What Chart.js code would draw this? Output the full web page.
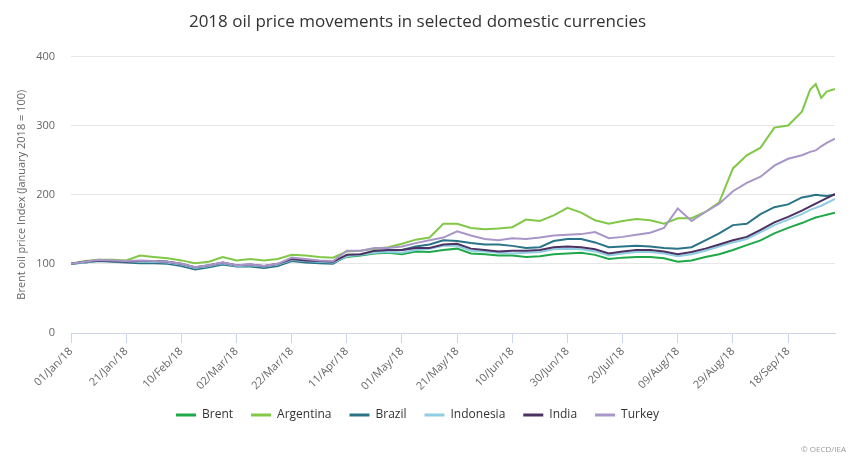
<!DOCTYPE html>
<html>
<head>
<meta charset="utf-8">
<script src="https://cdn.jsdelivr.net/npm/chart.js@4.4.1/dist/chart.umd.min.js"></script>
<style>
    html, body { margin: 0; padding: 0; background: #fff; }
    #wrap { width: 858px; height: 464px; }
</style>
</head>
<body>
<div id="wrap"><canvas id="oil-chart" width="858" height="464"></canvas></div>
<script>
// day offsets from 01 Jan 2018
const days = [0, 5, 10, 15, 20, 25, 30, 35, 40, 45, 50, 55, 60, 65, 70, 75, 80, 85, 90, 95,
    100, 105, 110, 115, 120, 125, 130, 135, 140, 145, 150, 155, 160, 165, 170, 175, 180, 185, 190, 195,
    200, 205, 210, 215, 220, 225, 230, 235, 240, 245, 250, 255, 260, 265, 268, 270, 272, 274, 277];

const tickLabels = ['01/Jan/18', '21/Jan/18', '10/Feb/18', '02/Mar/18', '22/Mar/18', '11/Apr/18', '01/May/18',
    '21/May/18', '10/Jun/18', '30/Jun/18', '20/Jul/18', '09/Aug/18', '29/Aug/18', '18/Sep/18'];

const brent = [100, 102, 105, 104, 103, 104, 104, 103, 99, 94, 97, 101, 97, 98, 96, 99, 106, 105, 103, 102,
    110, 112, 115, 116, 114, 118, 117, 120, 122, 115, 114, 112, 112, 110, 111, 114, 115, 116, 113, 107,
    109, 110, 110, 108, 103, 105, 110, 114, 120, 127, 134, 144, 152, 159, 164, 167, 169, 171, 174];

const argentina = [100, 104, 106, 106, 105, 112, 110, 108, 105, 101, 103, 110, 105, 107, 105, 107, 113, 112, 110, 109,
    118, 119, 122, 124, 129, 135, 138, 158, 158, 152, 150, 151, 153, 164, 162, 170, 181, 174, 163, 158,
    162, 165, 163, 158, 166, 166, 175, 189, 238, 257, 268, 297, 300, 320, 352, 360, 340, 349, 353];

const brazil = [100, 102, 104, 103, 102, 101, 101, 100, 97, 92, 95, 99, 96, 96, 94, 97, 104, 102, 101, 100,
    112, 113, 118, 119, 120, 125, 128, 134, 133, 130, 128, 128, 126, 123, 124, 133, 136, 136, 131, 124,
    125, 126, 125, 123, 122, 124, 134, 144, 156, 158, 172, 182, 186, 196, 198, 200, 199, 198, 200];

const indonesia = [100, 102, 105, 104, 103, 103, 103, 102, 99, 94, 97, 101, 97, 98, 96, 99, 106, 104, 103, 102,
    111, 113, 116, 117, 116, 120, 122, 126, 126, 119, 118, 116, 115, 116, 117, 121, 122, 121, 118, 112,
    115, 117, 117, 115, 111, 114, 119, 125, 131, 136, 146, 156, 164, 172, 178, 181, 184, 188, 194];

const india = [100, 103, 105, 104, 103, 104, 104, 103, 100, 95, 98, 102, 98, 99, 97, 100, 107, 105, 104, 103,
    113, 114, 119, 120, 120, 123, 123, 128, 129, 122, 120, 118, 119, 119, 120, 124, 125, 124, 121, 115,
    118, 120, 120, 118, 114, 117, 122, 128, 134, 139, 149, 160, 168, 177, 183, 187, 191, 195, 201];

const turkey = [100, 103, 106, 105, 104, 105, 104, 103, 100, 95, 98, 102, 98, 99, 97, 100, 109, 107, 105, 104,
    119, 119, 123, 123, 125, 130, 134, 138, 147, 141, 136, 134, 137, 136, 138, 141, 142, 143, 146, 137,
    139, 142, 145, 152, 180, 162, 175, 187, 205, 217, 226, 242, 252, 257, 262, 264, 270, 275, 281];

const seriesNames = ['Brent', 'Argentina', 'Brazil', 'Indonesia', 'India', 'Turkey'];
const seriesColors = ['#1fa84a', '#80c846', '#2a7488', '#8fcde0', '#4b3263', '#a896c8'];
const seriesValues = [brent, argentina, brazil, indonesia, india, turkey];

const ctx = document.getElementById('oil-chart').getContext('2d');
const fontFamily = "'Open Sans', 'Noto Sans', sans-serif";

const datasets = seriesNames.map((name, i) => ({
    label: name,
    data: days.map((d, j) => ({ x: d, y: seriesValues[i][j] })),
    borderColor: seriesColors[i],
    backgroundColor: seriesColors[i],
    borderWidth: 2,
    pointRadius: 0,
    tension: 0,
    // later series drawn on top, like the original
    order: seriesNames.length - i
}));

// small credit line in the bottom right corner
const creditPlugin = {
    id: 'credit',
    afterDraw(chart) {
        const c = chart.ctx;
        c.save();
        c.font = "8px " + fontFamily;
        c.fillStyle = '#999999';
        c.textAlign = 'right';
        c.textBaseline = 'middle';
        c.fillText('© OECD/IEA', 846, 450);
        c.restore();
    }
};

new Chart(ctx, {
    type: 'line',
    data: { datasets: datasets },
    options: {
        responsive: false,
        animation: false,
        layout: {
            padding: { left: 0, right: 23, top: 0, bottom: 33 }
        },
        scales: {
            x: {
                type: 'linear',
                min: 0,
                max: 277,
                afterFit: (scale) => { scale.height = 58; },
                grid: {
                    drawOnChartArea: false,
                    color: '#ccd6eb',
                    tickLength: 10
                },
                border: { color: '#ccd6eb', width: 1 },
                ticks: {
                    stepSize: 20,
                    autoSkip: false,
                    includeBounds: false,
                    maxRotation: 45,
                    minRotation: 45,
                    padding: 2,
                    color: '#666666',
                    font: { family: fontFamily, size: 11 },
                    callback: (v) => tickLabels[Math.round(v / 20)] || ''
                }
            },
            y: {
                min: 0,
                max: 400,
                afterFit: (scale) => { scale.width = 71; },
                grid: {
                    color: '#e6e6e6',
                    drawTicks: false
                },
                border: { display: false },
                ticks: {
                    stepSize: 100,
                    padding: 16,
                    color: '#666666',
                    font: { family: fontFamily, size: 11 }
                },
                title: {
                    display: true,
                    text: 'Brent oil price Index (January 2018 = 100)',
                    color: '#666666',
                    font: { family: fontFamily, size: 11 },
                    padding: { top: 15, bottom: 0 }
                }
            }
        },
        plugins: {
            title: {
                display: true,
                text: '2018 oil price movements in selected domestic currencies',
                color: '#333333',
                font: { family: fontFamily, size: 17, weight: 'normal' },
                padding: { top: 12, bottom: 24 }
            },
            legend: {
                position: 'bottom',
                labels: {
                    boxWidth: 20,
                    boxHeight: 3,
                    padding: 18,
                    color: '#333333',
                    font: { family: fontFamily, size: 12 },
                    sort: (a, b) => a.datasetIndex - b.datasetIndex,
                    generateLabels(chart) {
                        const items = Chart.defaults.plugins.legend.labels.generateLabels(chart);
                        items.forEach(it => { it.fillStyle = it.strokeStyle; it.lineWidth = 0; });
                        return items;
                    }
                }
            },
            tooltip: { enabled: false }
        }
    },
    plugins: [creditPlugin]
});
</script>
</body>
</html>
